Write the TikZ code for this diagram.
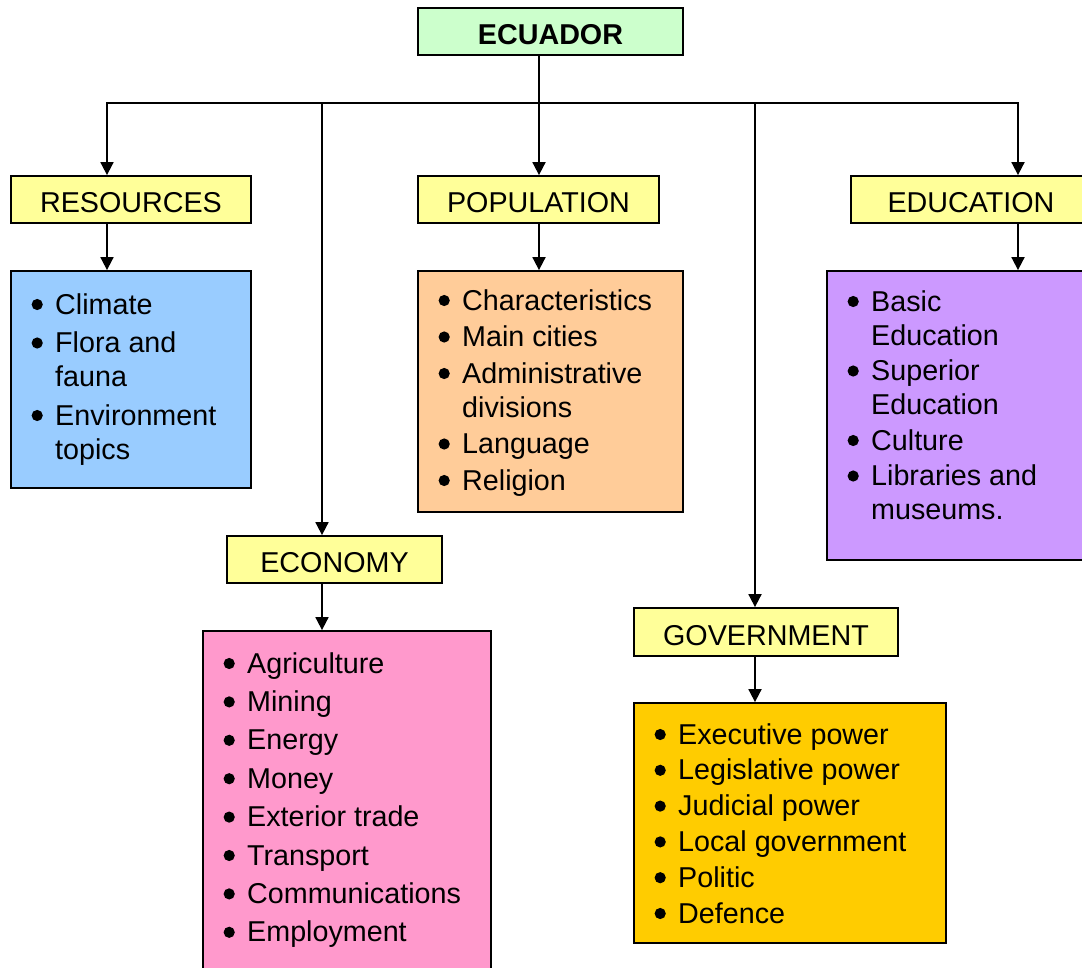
\documentclass[tikz,border=0pt]{standalone}
\usepackage{fontspec}
\setmainfont{Liberation Sans}
\usetikzlibrary{arrows.meta}
\definecolor{cEcu}{HTML}{CCFFCC}
\definecolor{cHdr}{HTML}{FFFF99}
\definecolor{cRes}{HTML}{99CCFF}
\definecolor{cPop}{HTML}{FFCC99}
\definecolor{cEdu}{HTML}{CC99FF}
\definecolor{cEco}{HTML}{FF99CC}
\definecolor{cGov}{HTML}{FFCC00}
\newlength\myitemgap
\newcommand\mybullet{\tikz[baseline=0pt,x=1pt,y=1pt]\fill[black] (0pt,9.5pt) circle (5.6pt);}
\newcommand\firstbit[1]{\hangindent=23pt\hangafter=1\noindent\makebox[23pt][l]{\hspace{-0.6pt}\mybullet}#1\par}
\newcommand\bit[1]{\vskip\myitemgap\firstbit{#1}}
\newcommand\blist[3]{\parbox[t]{#1}{\fontsize{28.7}{34}\selectfont\setlength\myitemgap{#2}\hbadness=10000 #3}}
\begin{document}
\begin{tikzpicture}[x=1pt,y=-1pt,
  bx/.style={draw, line width=1.8pt, inner sep=0pt, rectangle},
  hdr/.style={bx, fill=cHdr, font=\fontsize{28.7}{34}\selectfont, text height=26.5pt, text depth=0pt, minimum height=47pt},
  lst/.style={anchor=base west, inner sep=0pt},
  conn/.style={line width=1.8pt},
  tip/.tip={Triangle[length=13pt,width=13pt]},
  arr/.style={conn, -tip},
]
\useasboundingbox (0,0) rectangle (1082,967);
\clip (0,0) rectangle (1082,967);

% top
\node[hdr, fill=cEcu, font=\fontsize{28.7}{34}\selectfont\bfseries, minimum width=265pt] (ecu) at (550.5,31.5) {ECUADOR};

% headers
\node[hdr, minimum width=240pt] (res) at (131,199.5) {RESOURCES};
\node[hdr, minimum width=241pt] (pop) at (538.5,199.5) {POPULATION};
\node[hdr, minimum width=240pt] (edu) at (971,199.5) {EDUCATION};
\node[hdr, minimum width=215pt] (eco) at (334.5,559.5) {ECONOMY};
\node[hdr, minimum width=264pt, minimum height=48pt] (gov) at (766,632) {GOVERNMENT};

% content boxes
\node[bx, fill=cRes, minimum width=240pt, minimum height=217pt] (resc) at (131,379.5) {};
\node[bx, fill=cPop, minimum width=265pt, minimum height=241pt] (popc) at (550.5,391.5) {};
\node[bx, fill=cEdu, minimum width=283pt, minimum height=289pt] (educ) at (968.5,415.5) {};
\node[bx, fill=cEco, minimum width=288pt, minimum height=359pt] (ecoc) at (347,810.5) {};
\node[bx, fill=cGov, minimum width=312pt, minimum height=240pt] (govc) at (790,823) {};

% lists
\node[lst] (rest) at (32,314) {\blist{215pt}{4.5pt}{\firstbit{Climate}\bit{Flora and\newline fauna}\bit{Environment\newline topics}}};
\node[lst] (popt) at (439,310) {\blist{240pt}{2.5pt}{\firstbit{Characteristics}\bit{Main cities}\bit{Administrative\newline divisions}\bit{Language}\bit{Religion}}};
\node[lst] (edut) at (848,311) {\blist{230pt}{1.5pt}{\firstbit{Basic\newline Education}\bit{Superior\newline Education}\bit{Culture}\bit{Libraries and\newline museums.}}};
\node[lst] (ecot) at (224,673) {\blist{265pt}{4.4pt}{\firstbit{Agriculture}\bit{Mining}\bit{Energy}\bit{Money}\bit{Exterior trade}\bit{Transport}\bit{Communications}\bit{Employment}}};
\node[lst] (govt) at (655,744) {\blist{290pt}{1.8pt}{\firstbit{Executive power}\bit{Legislative power}\bit{Judicial power}\bit{Local government}\bit{Politic}\bit{Defence}}};

% bus
\coordinate (jR) at (107,103);
\coordinate (jEc) at (322,103);
\coordinate (jP) at (539,103);
\coordinate (jG) at (755,103);
\coordinate (jEd) at (1018,103);

\draw[arr] (ecu.south -| jP) -- (jP |- pop.north);
\draw[conn, tip-tip] (jR |- res.north) -- (jR) -- (jEd) -- (jEd |- edu.north);
\draw[arr] (jEc) -- (jEc |- eco.north);
\draw[arr] (jG) -- (jG |- gov.north);

% header to content
\draw[arr] (res.south -| jR) -- (resc.north -| jR);
\draw[arr] (pop.south -| jP) -- (popc.north -| jP);
\draw[arr] (edu.south -| jEd) -- (educ.north -| jEd);
\draw[arr] (eco.south -| jEc) -- (ecoc.north -| jEc);
\draw[arr] (gov.south -| jG) -- (govc.north -| jG);
\end{tikzpicture}
\end{document}
